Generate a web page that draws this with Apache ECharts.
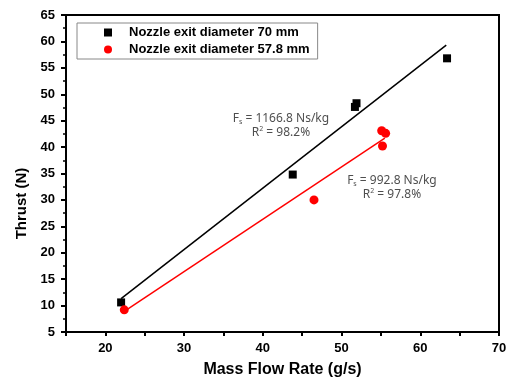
<!DOCTYPE html>
<html>
<head>
<meta charset="utf-8">
<script src="https://cdn.jsdelivr.net/npm/echarts@6/dist/echarts.min.js"></script>
<style>
  html, body { margin: 0; padding: 0; background: #fff; }
  #chart { width: 516px; height: 381px; }
</style>
</head>
<body>
<div id="chart"></div>
<script>
// measured points (mass flow g/s, thrust N)
const nozzle70 = [[22.0, 10.6], [43.8, 34.8], [51.7, 47.6], [51.9, 48.3], [63.4, 56.8]];
const nozzle578 = [[22.4, 9.2], [46.5, 30.0], [55.1, 43.1], [55.6, 42.6], [55.2, 40.2]];
// linear fit end points
const fit70 = [[22.0, 11.3], [63.3, 59.3]];
const fit578 = [[22.4, 8.9], [55.5, 41.7]];
const seriesNames = ['Nozzle exit diameter 70 mm', 'Nozzle exit diameter 57.8 mm'];
const fitNotes = [
  { at: [42.3, 44.0], fs: '1166.8', r2: '98.2' },
  { at: [56.4, 32.4], fs: '992.8', r2: '97.8' }
];

const chart = echarts.init(document.getElementById('chart'));
const boldFont = { fontFamily: 'Liberation Sans, Arial, sans-serif', fontWeight: 'bold', color: '#000' };
const noteFont = 'Noto Sans, sans-serif';
const noteRich = {
  base: { fontFamily: noteFont, fontSize: 12, color: '#222', lineHeight: 14 },
  sub: { fontFamily: noteFont, fontSize: 7, color: '#222', verticalAlign: 'bottom', lineHeight: 10 },
  sup: { fontFamily: noteFont, fontSize: 7, color: '#222', verticalAlign: 'top', lineHeight: 10 }
};

chart.setOption({
  animation: false,
  backgroundColor: '#fff',
  grid: {
    left: 66, right: 17, top: 15, bottom: 49,
    outerBoundsMode: 'none', containLabel: false,
    show: true, borderColor: '#000', borderWidth: 2
  },
  legend: {
    data: seriesNames,
    orient: 'vertical',
    left: 77,
    top: 23,
    padding: [3, 8, 3, 27],
    itemWidth: 8,
    itemHeight: 8,
    itemGap: 4,
    borderColor: '#888',
    borderWidth: 1,
    textStyle: Object.assign({ fontSize: 13, padding: [0, 0, 0, 12] }, boldFont)
  },
  xAxis: {
    type: 'value',
    min: 15, max: 70, interval: 5,
    name: 'Mass Flow Rate (g/s)',
    nameLocation: 'middle',
    nameGap: 30,
    nameTextStyle: Object.assign({ fontSize: 16 }, boldFont),
    axisLine: { lineStyle: { color: '#000', width: 2 } },
    axisTick: { length: 4, lineStyle: { color: '#000', width: 2 } },
    axisLabel: Object.assign({ fontSize: 13, margin: 10, formatter: v => (v % 10 === 0 ? String(v) : '') }, boldFont),
    splitLine: { show: false }
  },
  yAxis: {
    type: 'value',
    min: 5, max: 65, interval: 5,
    name: 'Thrust (N)',
    nameLocation: 'middle',
    nameGap: 36,
    nameTextStyle: Object.assign({ fontSize: 15, padding: [0, 60, 0, 0] }, boldFont),
    axisLine: { lineStyle: { color: '#000', width: 2 } },
    axisTick: { length: 5, lineStyle: { color: '#000', width: 2 } },
    minorTick: { show: true, splitNumber: 2, length: 3, lineStyle: { color: '#000', width: 1.5 } },
    axisLabel: Object.assign({ fontSize: 13, margin: 11 }, boldFont),
    splitLine: { show: false }
  },
  series: [
    {
      name: seriesNames[0], type: 'scatter', data: nozzle70,
      symbol: 'rect', symbolSize: 8, itemStyle: { color: '#000', opacity: 1 }, z: 5
    },
    {
      name: seriesNames[1], type: 'scatter', data: nozzle578,
      symbol: 'circle', symbolSize: 9, itemStyle: { color: '#f00', opacity: 1 }, z: 5
    },
    {
      name: 'fit70', type: 'line', data: fit70, symbol: 'none',
      lineStyle: { color: '#000', width: 1.5 }, z: 3
    },
    {
      name: 'fit578', type: 'line', data: fit578, symbol: 'none',
      lineStyle: { color: '#f00', width: 1.5 }, z: 3
    },
    {
      name: 'notes', type: 'scatter', symbolSize: 0, silent: true,
      data: fitNotes.map(n => ({ value: n.at, fs: n.fs, r2: n.r2 })),
      label: {
        show: true, position: 'inside', align: 'center', verticalAlign: 'middle',
        formatter: p => '{base|F}{sub|s}{base| = ' + p.data.fs + ' Ns/kg}\n{base|R}{sup|2}{base| = ' + p.data.r2 + '%}',
        rich: noteRich
      }
    }
  ]
});
</script>
</body>
</html>
